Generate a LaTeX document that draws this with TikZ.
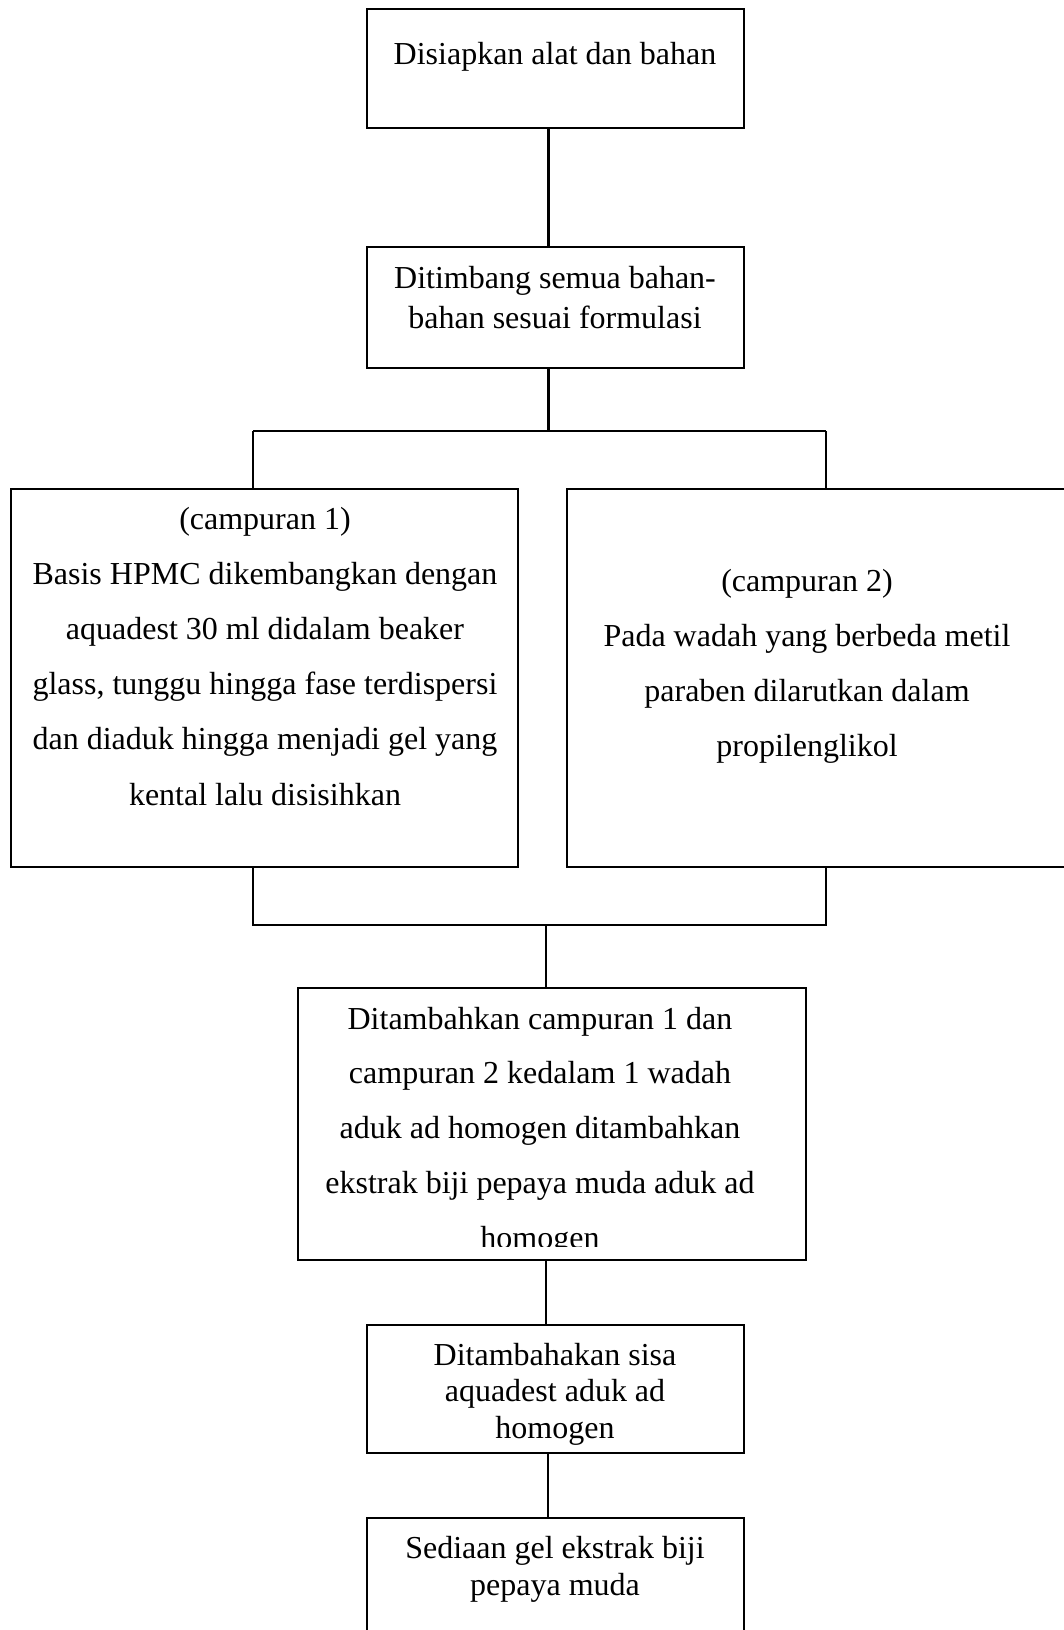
\documentclass[tikz,border=0pt]{standalone}
\usepackage{fontspec}
\setmainfont{Liberation Serif}
\usetikzlibrary{fit}
\begin{document}
\begin{tikzpicture}[x=0.375pt,y=-0.375pt,
  box/.style={draw, line width=0.8pt, inner sep=0pt},
  txt/.style={font=\fontsize{12}{14}\selectfont, inner sep=0pt, anchor=base},
  conn/.style={line width=0.8pt}]
\useasboundingbox (0,0) rectangle (1064,1630);
\clip (0,0) rectangle (1064,1630);

% boxes
\node[box, fit={(367,9) (744,128)}] (b1) {};
\node[box, fit={(367,247) (744,368)}] (b2) {};
\node[box, fit={(11,489) (518,867)}] (bl) {};
\node[box, fit={(567,489) (1100,867)}] (br) {};
\node[box, fit={(298,988) (806,1260)}] (b3) {};
\node[box, fit={(367,1325) (744,1453)}] (b4) {};
\node[box, fit={(367,1518) (744,1690)}] (b5) {};

% connector coordinates
\coordinate (c1) at (548.5,0);
\coordinate (c2) at (548,0);
\coordinate (jL) at (253,431);
\coordinate (jR) at (826,431);
\coordinate (kL) at (253,925);
\coordinate (kR) at (826,925);
\coordinate (k) at (546,925);

\draw[conn] (b1.south -| c1) -- (b2.north -| c1);
\draw[conn] (b2.south -| c1) -- (jL -| c1);
\draw[conn] (jL) -- (jR);
\draw[conn] (jL) -- (bl.north -| jL);
\draw[conn] (jR) -- (br.north -| jR);
\draw[conn] (bl.south -| kL) -- (kL) -- (kR) -- (br.south -| kR);
\draw[conn] (k) -- (b3.north -| k);
\draw[conn] (b3.south -| k) -- (b4.north -| k);
\draw[conn] (b4.south -| c2) -- (b5.north -| c2);

% texts
\node[txt] (t1) at (555,64) {Disiapkan alat dan bahan};

\node[txt] (t2a) at (555,288) {Ditimbang semua bahan-};
\node[txt] (t2b) at (555,328) {bahan sesuai formulasi};

\node[txt] (tla) at (265,529) {(campuran 1)};
\node[txt] (tlb) at (265,584.2) {Basis HPMC dikembangkan dengan};
\node[txt] (tlc) at (265,639.4) {aquadest 30 ml didalam beaker};
\node[txt] (tld) at (265,694.6) {glass, tunggu hingga fase terdispersi};
\node[txt] (tle) at (265,749.8) {dan diaduk hingga menjadi gel yang};
\node[txt] (tlf) at (265,805) {kental lalu disisihkan};

\node[txt] (tra) at (807,591) {(campuran 2)};
\node[txt] (trb) at (807,646) {Pada wadah yang berbeda metil};
\node[txt] (trc) at (807,701) {paraben dilarutkan dalam};
\node[txt] (trd) at (807,756) {propilenglikol};

\begin{scope}
\clip (298,988) rectangle (806,1246.5);
\node[txt] (t3a) at (540,1029) {Ditambahkan campuran 1 dan};
\node[txt] (t3b) at (540,1083.8) {campuran 2 kedalam 1 wadah};
\node[txt] (t3c) at (540,1138.6) {aduk ad homogen ditambahkan};
\node[txt] (t3d) at (540,1193.4) {ekstrak biji pepaya muda aduk ad};
\node[txt] (t3e) at (540,1248.2) {homogen};
\end{scope}

\node[txt] (t4a) at (555,1365) {Ditambahakan sisa};
\node[txt] (t4b) at (555,1401.5) {aquadest aduk ad};
\node[txt] (t4c) at (555,1438) {homogen};

\node[txt] (t5a) at (555,1558) {Sediaan gel ekstrak biji};
\node[txt] (t5b) at (555,1595) {pepaya muda};
\end{tikzpicture}
\end{document}
